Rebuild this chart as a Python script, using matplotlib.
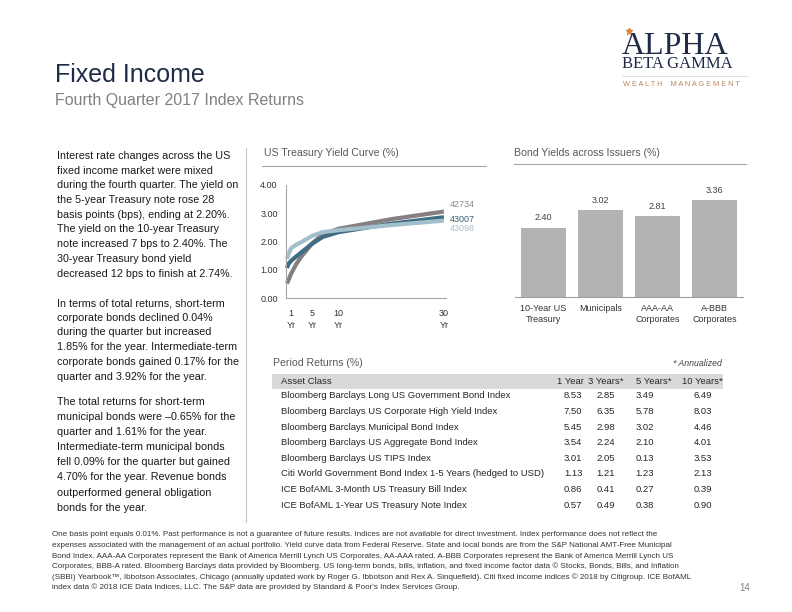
import matplotlib
matplotlib.use("Agg")
import matplotlib.pyplot as plt
from matplotlib.ticker import FixedLocator, FuncFormatter

plt.rcParams['font.family'] = ['Liberation Sans', 'DejaVu Sans']

# ---------------- data ----------------
maturities = [0.25, 0.5, 1, 2, 3, 5, 7, 10, 20, 30]
curve_names = ['42734', '43007', '43098']
curve_2016 = [0.51, 0.62, 0.85, 1.20, 1.47, 1.93, 2.25, 2.45, 2.79, 3.06]
curve_sep17 = [1.06, 1.20, 1.31, 1.47, 1.62, 1.92, 2.16, 2.33, 2.63, 2.86]
curve_dec17 = [1.39, 1.53, 1.76, 1.89, 1.98, 2.20, 2.33, 2.40, 2.58, 2.74]
curve_ticks = [1, 5, 10, 30]
curve_tick_labels = ['1\nYr', '5\nYr', '10\nYr', '30\nYr']
curve_yticks = [0, 1, 2, 3, 4]

bond_cats = ['10-Year US\nTreasury', 'Municipals', 'AAA-AA\nCorporates', 'A-BBB\nCorporates']
bond_vals = [2.40, 3.02, 2.81, 3.36]

table_cols = ['1 Year', '3 Years*', '5 Years*', '10 Years*']
table_rows = [
    'Bloomberg Barclays Long US Government Bond Index',
    'Bloomberg Barclays US Corporate High Yield Index',
    'Bloomberg Barclays Municipal Bond Index',
    'Bloomberg Barclays US Aggregate Bond Index',
    'Bloomberg Barclays US TIPS Index',
    'Citi World Government Bond Index 1-5 Years (hedged to USD)',
    'ICE BofAML 3-Month US Treasury Bill Index',
    'ICE BofAML 1-Year US Treasury Note Index',
]
ret_1y = [8.53, 7.50, 5.45, 3.54, 3.01, 1.13, 0.86, 0.57]
ret_3y = [2.85, 6.35, 2.98, 2.24, 2.05, 1.21, 0.41, 0.49]
ret_5y = [3.49, 5.78, 3.02, 2.10, 0.13, 1.23, 0.27, 0.38]
ret_10y = [6.49, 8.03, 4.46, 4.01, 3.53, 2.13, 0.39, 0.90]

para1 = ["Interest rate changes across the US",
         "fixed income market were mixed",
         "during the fourth quarter. The yield on",
         "the 5-year Treasury note rose 28",
         "basis points (bps), ending at 2.20%.",
         "The yield on the 10-year Treasury",
         "note increased 7 bps to 2.40%. The",
         "30-year Treasury bond yield",
         "decreased 12 bps to finish at 2.74%."]
para2 = ["In terms of total returns, short-term",
         "corporate bonds declined 0.04%",
         "during the quarter but increased",
         "1.85% for the year. Intermediate-term",
         "corporate bonds gained 0.17% for the",
         "quarter and 3.92% for the year."]
para3 = ["The total returns for short-term",
         "municipal bonds were \u20130.65% for the",
         "quarter and 1.61% for the year.",
         "Intermediate-term municipal bonds",
         "fell 0.09% for the quarter but gained",
         "4.70% for the year. Revenue bonds",
         "outperformed general obligation",
         "bonds for the year."]

footnote = [
    "One basis point equals 0.01%. Past performance is not a guarantee of future results. Indices are not available for direct investment. Index performance does not reflect the",
    "expenses associated with the management of an actual portfolio. Yield curve data from Federal Reserve. State and local bonds are from the S&P National AMT-Free Municipal",
    "Bond Index. AAA-AA Corporates represent the Bank of America Merrill Lynch US Corporates, AA-AAA rated. A-BBB Corporates represent the Bank of America Merrill Lynch US",
    "Corporates, BBB-A rated. Bloomberg Barclays data provided by Bloomberg. US long-term bonds, bills, inflation, and fixed income factor data \u00a9 Stocks, Bonds, Bills, and Inflation",
    "(SBBI) Yearbook\u2122, Ibbotson Associates, Chicago (annually updated work by Roger G. Ibbotson and Rex A. Sinquefield). Citi fixed income indices \u00a9 2018 by Citigroup. ICE BofAML",
    "index data \u00a9 2018 ICE Data Indices, LLC. The S&P data are provided by Standard & Poor's Index Services Group.",
]

# ---------------- layout helpers ----------------
W, H = 792, 612
fig = plt.figure(figsize=(W / 100, H / 100), dpi=100)
fig.patch.set_facecolor('white')


def fx(x):
    return x / W


def fy(y):
    return 1 - y / H


def rect(x0, y0, x1, y1):
    return [x0 / W, 1 - y1 / H, (x1 - x0) / W, (y1 - y0) / H]


def hline(x0, x1, y, color, lw=0.8):
    fig.add_artist(plt.Line2D([fx(x0), fx(x1)], [fy(y), fy(y)], color=color, lw=lw))


def vline(x, y0, y1, color, lw=0.8):
    fig.add_artist(plt.Line2D([fx(x), fx(x)], [fy(y0), fy(y1)], color=color, lw=lw))


navy = '#1f2b47'

# ---------------- header ----------------
fig.text(fx(55), fy(82), 'Fixed Income', fontsize=18, color=navy, va='baseline', ha='left')
fig.text(fx(55), fy(105), 'Fourth Quarter 2017 Index Returns', fontsize=11.5, color='#808080',
         va='baseline', ha='left')

# logo
fig.text(fx(622), fy(54), 'ALPHA', fontsize=23, color=navy, family='Liberation Serif',
         va='baseline', ha='left')
fig.add_artist(plt.Line2D([fx(629)], [fy(31)], marker='*', markersize=5, color='#d9823b', lw=0))
fig.text(fx(622), fy(68.5), 'BETA GAMMA', fontsize=12, color=navy, family='Liberation Serif',
         va='baseline', ha='left')
hline(622, 748, 76, '#e3dbd2', lw=0.6)
fig.text(fx(623), fy(85), 'W E A L T H    M A N A G E M E N T', fontsize=5.3, color='#b8865b',
         va='center', ha='left')

# ---------------- left column text ----------------
def paragraph(lines, y0, step=14.7):
    for i, ln in enumerate(lines):
        fig.text(fx(57), fy(y0 + i * step + 4), ln, fontsize=7.75, color='#1a1a1a',
                 va='baseline', ha='left')


paragraph(para1, 155)
paragraph(para2, 302)
paragraph(para3, 401, step=15.1)

vline(246, 148, 522, '#c8c8c8', lw=0.8)

# ---------------- yield curve ----------------
fig.text(fx(264), fy(153), 'US Treasury Yield Curve (%)', fontsize=7.6, color='#595959',
         va='center', ha='left')
hline(262, 486, 166, '#a6a6a6', lw=0.8)

ax1 = fig.add_axes(rect(286, 185, 446, 298))
curve_colors = ['#857f80', '#3f6b84', '#a3bfcc']
label_colors = ['#8a8a8a', '#3b5f73', '#a9c0cc']
curves = [curve_2016, curve_sep17, curve_dec17]
for vals, c in zip(curves, curve_colors):
    ax1.plot(maturities, vals, color=c, lw=3, solid_capstyle='butt', clip_on=False)
offsets = [(4, 5), (4, -1.5), (4, -6)]
for name, vals, c, off in zip(curve_names, curves, label_colors, offsets):
    ax1.annotate(name, xy=(maturities[-1], vals[-1]), xytext=off, textcoords='offset points',
                 fontsize=6.5, color=c, ha='left', va='center')
ax1.set_xlim(0.06, 30.4)
ax1.set_ylim(0, 4)
ax1.xaxis.set_major_locator(FixedLocator(curve_ticks))
ax1.set_xticklabels(curve_tick_labels, fontsize=6.5, color='#333333', linespacing=1.35)
ax1.yaxis.set_major_locator(FixedLocator(curve_yticks))
ax1.yaxis.set_major_formatter(FuncFormatter(lambda v, p: f'{v:.2f}'))
ax1.tick_params(axis='both', length=0)
ax1.tick_params(axis='y', pad=6, labelsize=6.5, labelcolor='#333333')
ax1.tick_params(axis='x', pad=8)
for s in ['top', 'right']:
    ax1.spines[s].set_visible(False)
for s in ['left', 'bottom']:
    ax1.spines[s].set_color('#a6a6a6')
    ax1.spines[s].set_linewidth(0.8)
ax1.set_facecolor('none')

# ---------------- bond yields ----------------
fig.text(fx(514), fy(153), 'Bond Yields across Issuers (%)', fontsize=7.6, color='#595959',
         va='center', ha='left')
hline(514, 746, 164, '#a6a6a6', lw=0.8)

ax2 = fig.add_axes(rect(515, 181.5, 743, 296.7))
xs = list(range(len(bond_cats)))
ax2.bar(xs, bond_vals, width=0.79, color='#b3b3b3')
for x, v in zip(xs, bond_vals):
    ax2.annotate(f'{v:.2f}', xy=(x, v), xytext=(0, 7), textcoords='offset points',
                 ha='center', va='center', fontsize=6.5, color='#404040')
ax2.set_xlim(-0.5, 3.5)
ax2.set_ylim(0, 4)
ax2.set_xticks(xs)
ax2.set_xticklabels(bond_cats, fontsize=6.5, color='#333333', linespacing=1.35)
ax2.tick_params(axis='x', length=0, pad=5)
ax2.set_yticks([])
for s in ['top', 'right', 'left']:
    ax2.spines[s].set_visible(False)
ax2.spines['bottom'].set_color('#a0a0a0')
ax2.spines['bottom'].set_linewidth(0.8)
ax2.set_facecolor('none')

# ---------------- table ----------------
fig.text(fx(273), fy(363), 'Period Returns (%)', fontsize=7.6, color='#595959', va='center',
         ha='left')
fig.text(fx(722), fy(363), '* Annualized', fontsize=6.3, color='#404040', style='italic',
         va='center', ha='right')
fig.add_artist(plt.Rectangle((fx(272), fy(389)), (723 - 272) / W, 15 / H, color='#d9d9d9', lw=0))
fig.text(fx(281), fy(382), 'Asset Class', fontsize=6.8, color='#262626', va='center', ha='left')
head_x = [570, 606, 654, 702]
val_x = [573, 606, 645, 703]
for hx, col in zip(head_x, table_cols):
    fig.text(fx(hx), fy(382), col, fontsize=6.8, color='#262626', va='center', ha='center')
row_step = 15.6
for i, name in enumerate(table_rows):
    y = 396 + i * row_step
    fig.text(fx(281), fy(y), name, fontsize=6.8, color='#262626', va='center', ha='left')
    for vx, arr in zip(val_x, [ret_1y, ret_3y, ret_5y, ret_10y]):
        fig.text(fx(vx), fy(y), f'{arr[i]:.2f}', fontsize=6.8, color='#262626', va='center',
                 ha='center')

# ---------------- footnote ----------------
for i, ln in enumerate(footnote):
    fig.text(fx(52), fy(535 + i * 10.5), ln, fontsize=5.8, color='#333333', va='center', ha='left')
fig.text(fx(750), fy(588), '14', fontsize=7, color='#808080', va='center', ha='right')

fig.savefig('out.png', dpi=100)
